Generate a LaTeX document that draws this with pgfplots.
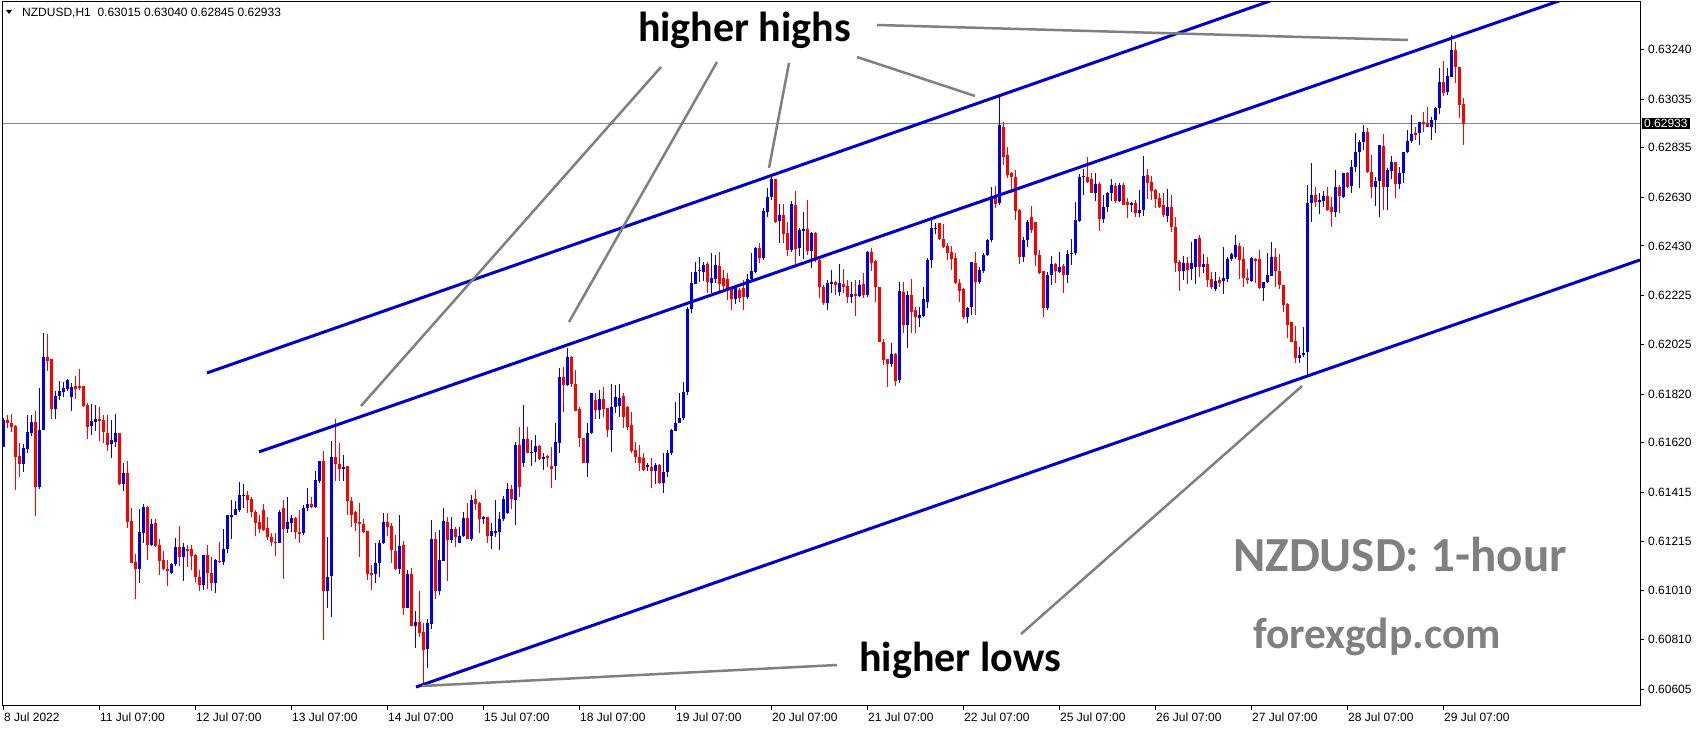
\documentclass[border=0pt]{standalone}
\usepackage{fontspec}
\setmainfont{Liberation Sans}
\newfontfamily\calibri{Carlito}
\usepackage{pgfplots}
\usepackage{pgfplotstable}
\pgfplotsset{compat=1.18}
\usetikzlibrary{backgrounds}
\definecolor{bull}{RGB}{0,0,230}
\definecolor{bear}{RGB}{255,0,0}
\definecolor{tline}{RGB}{0,0,205}
\definecolor{annot}{RGB}{128,128,128}
\definecolor{pline}{RGB}{119,136,153}
\pgfplotstableread{
i o h l c
0 0.61602 0.61722 0.61602 0.61713
1 0.61713 0.61734 0.61680 0.61701
2 0.61701 0.61738 0.61664 0.61685
3 0.61689 0.61693 0.61425 0.61561
4 0.61565 0.61619 0.61479 0.61532
5 0.61532 0.61615 0.61499 0.61598
6 0.61594 0.61734 0.61578 0.61664
7 0.61660 0.61734 0.61647 0.61705
8 0.61705 0.61750 0.61318 0.61438
9 0.61438 0.61845 0.61429 0.61672
10 0.61672 0.62071 0.61672 0.61973
11 0.61973 0.62067 0.61915 0.61956
12 0.61964 0.61964 0.61717 0.61759
13 0.61759 0.61833 0.61717 0.61812
14 0.61812 0.61874 0.61796 0.61833
15 0.61829 0.61870 0.61808 0.61845
16 0.61841 0.61882 0.61833 0.61878
17 0.61808 0.61866 0.61750 0.61849
18 0.61853 0.61894 0.61800 0.61841
19 0.61853 0.61923 0.61837 0.61845
20 0.61853 0.61853 0.61767 0.61771
21 0.61775 0.61783 0.61635 0.61685
22 0.61689 0.61779 0.61652 0.61709
23 0.61705 0.61775 0.61668 0.61717
24 0.61717 0.61767 0.61627 0.61709
25 0.61713 0.61734 0.61619 0.61664
26 0.61660 0.61734 0.61586 0.61610
27 0.61615 0.61713 0.61557 0.61631
28 0.61623 0.61738 0.61602 0.61660
29 0.61660 0.61660 0.61446 0.61450
30 0.61450 0.61536 0.61421 0.61495
31 0.61495 0.61545 0.61269 0.61294
32 0.61298 0.61351 0.61125 0.61125
33 0.61129 0.61162 0.60977 0.61100
34 0.61100 0.61347 0.61042 0.61252
35 0.61248 0.61368 0.61207 0.61355
36 0.61355 0.61359 0.61137 0.61199
37 0.61199 0.61306 0.61195 0.61285
38 0.61289 0.61306 0.61191 0.61195
39 0.61199 0.61224 0.61075 0.61133
40 0.61137 0.61174 0.61096 0.61100
41 0.61100 0.61137 0.61030 0.61092
42 0.61084 0.61125 0.61079 0.61121
43 0.61121 0.61228 0.61112 0.61191
44 0.61191 0.61277 0.61112 0.61149
45 0.61149 0.61207 0.61051 0.61191
46 0.61182 0.61199 0.61108 0.61174
47 0.61182 0.61199 0.61096 0.61154
48 0.61158 0.61162 0.61047 0.61067
49 0.61067 0.61096 0.61010 0.61034
50 0.61034 0.61158 0.61014 0.61158
51 0.61158 0.61199 0.61018 0.61084
52 0.61084 0.61149 0.61010 0.61042
53 0.61042 0.61141 0.61001 0.61137
54 0.61133 0.61211 0.61125 0.61129
55 0.61129 0.61265 0.61116 0.61182
56 0.61182 0.61322 0.61166 0.61322
57 0.61318 0.61384 0.61224 0.61322
58 0.61322 0.61380 0.61322 0.61347
59 0.61343 0.61458 0.61335 0.61405
60 0.61405 0.61450 0.61351 0.61405
61 0.61405 0.61421 0.61331 0.61384
62 0.61388 0.61396 0.61314 0.61335
63 0.61335 0.61343 0.61236 0.61289
64 0.61294 0.61322 0.61248 0.61265
65 0.61343 0.61368 0.61256 0.61261
66 0.61269 0.61314 0.61219 0.61232
67 0.61232 0.61248 0.61195 0.61211
68 0.61211 0.61248 0.61154 0.61207
69 0.61207 0.61343 0.61207 0.61335
70 0.61351 0.61384 0.61059 0.61265
71 0.61265 0.61396 0.61248 0.61294
72 0.61289 0.61322 0.61252 0.61310
73 0.61310 0.61314 0.61224 0.61252
74 0.61252 0.61343 0.61207 0.61248
75 0.61248 0.61363 0.61240 0.61351
76 0.61351 0.61433 0.61339 0.61368
77 0.61368 0.61396 0.61351 0.61355
78 0.61355 0.61503 0.61351 0.61466
79 0.61462 0.61545 0.61454 0.61545
80 0.61545 0.61586 0.60808 0.61010
81 0.61010 0.61232 0.60940 0.61067
82 0.61071 0.61627 0.60902 0.61561
83 0.61561 0.61717 0.61462 0.61532
84 0.61532 0.61619 0.61462 0.61512
85 0.61512 0.61569 0.61462 0.61520
86 0.61524 0.61524 0.61322 0.61380
87 0.61380 0.61396 0.61273 0.61322
88 0.61335 0.61339 0.61256 0.61289
89 0.61294 0.61372 0.61149 0.61285
90 0.61285 0.61306 0.61248 0.61252
91 0.61256 0.61256 0.61055 0.61079
92 0.61084 0.61116 0.61014 0.61075
93 0.61079 0.61207 0.61042 0.61125
94 0.61125 0.61219 0.61067 0.61207
95 0.61207 0.61331 0.61203 0.61294
96 0.61294 0.61331 0.61236 0.61273
97 0.61277 0.61289 0.61125 0.61178
98 0.61174 0.61240 0.61096 0.61100
99 0.61100 0.61322 0.61079 0.61195
100 0.61199 0.61215 0.60911 0.60940
101 0.60940 0.61096 0.60940 0.61079
102 0.61079 0.61104 0.60865 0.60865
103 0.60865 0.60927 0.60775 0.60882
104 0.60882 0.61010 0.60820 0.60837
105 0.60841 0.60878 0.60627 0.60767
106 0.60771 0.60894 0.60693 0.60878
107 0.60874 0.61302 0.60853 0.61224
108 0.61224 0.61252 0.60977 0.61010
109 0.61010 0.61261 0.60993 0.61137
110 0.61133 0.61351 0.61133 0.61298
111 0.61294 0.61314 0.61051 0.61219
112 0.61219 0.61314 0.61207 0.61265
113 0.61265 0.61273 0.61191 0.61232
114 0.61207 0.61273 0.61207 0.61236
115 0.61236 0.61335 0.61232 0.61310
116 0.61310 0.61372 0.61224 0.61224
117 0.61224 0.61405 0.61215 0.61384
118 0.61388 0.61425 0.61343 0.61368
119 0.61372 0.61376 0.61248 0.61306
120 0.61306 0.61318 0.61285 0.61314
121 0.61314 0.61314 0.61207 0.61236
122 0.61236 0.61289 0.61182 0.61256
123 0.61248 0.61384 0.61232 0.61256
124 0.61252 0.61335 0.61178 0.61306
125 0.61306 0.61401 0.61298 0.61388
126 0.61331 0.61454 0.61326 0.61429
127 0.61429 0.61446 0.61347 0.61388
128 0.61384 0.61623 0.61281 0.61610
129 0.61610 0.61685 0.61396 0.61438
130 0.61536 0.61775 0.61520 0.61635
131 0.61635 0.61685 0.61578 0.61578
132 0.61578 0.61631 0.61524 0.61582
133 0.61582 0.61652 0.61540 0.61606
134 0.61606 0.61610 0.61549 0.61553
135 0.61553 0.61578 0.61508 0.61561
136 0.61565 0.61569 0.61520 0.61561
137 0.61524 0.61602 0.61433 0.61512
138 0.61524 0.61701 0.61466 0.61623
139 0.61619 0.61927 0.61578 0.61890
140 0.61890 0.61931 0.61746 0.61857
141 0.61857 0.62010 0.61853 0.61973
142 0.61973 0.61977 0.61849 0.61861
143 0.61861 0.61919 0.61750 0.61750
144 0.61759 0.61767 0.61602 0.61639
145 0.61639 0.61639 0.61536 0.61536
146 0.61536 0.61701 0.61479 0.61660
147 0.61660 0.61825 0.61656 0.61825
148 0.61796 0.61825 0.61717 0.61754
149 0.61754 0.61837 0.61717 0.61800
150 0.61800 0.61849 0.61726 0.61759
151 0.61763 0.61763 0.61643 0.61672
152 0.61672 0.61861 0.61582 0.61767
153 0.61767 0.61857 0.61742 0.61808
154 0.61771 0.61861 0.61726 0.61804
155 0.61812 0.61825 0.61680 0.61726
156 0.61767 0.61771 0.61672 0.61685
157 0.61693 0.61746 0.61578 0.61586
158 0.61590 0.61623 0.61536 0.61561
159 0.61561 0.61610 0.61503 0.61536
160 0.61557 0.61578 0.61503 0.61508
161 0.61520 0.61536 0.61503 0.61528
162 0.61520 0.61557 0.61433 0.61503
163 0.61503 0.61536 0.61450 0.61528
164 0.61528 0.61532 0.61450 0.61454
165 0.61454 0.61578 0.61413 0.61499
166 0.61499 0.61590 0.61479 0.61578
167 0.61578 0.61676 0.61569 0.61672
168 0.61668 0.61787 0.61668 0.61701
169 0.61701 0.61825 0.61701 0.61722
170 0.61722 0.61870 0.61713 0.61829
171 0.61829 0.62178 0.61816 0.62170
172 0.62170 0.62323 0.62154 0.62277
173 0.62273 0.62364 0.62273 0.62323
174 0.62327 0.62384 0.62281 0.62331
175 0.62323 0.62364 0.62285 0.62351
176 0.62355 0.62364 0.62236 0.62281
177 0.62277 0.62401 0.62236 0.62298
178 0.62294 0.62392 0.62277 0.62351
179 0.62347 0.62405 0.62236 0.62273
180 0.62298 0.62331 0.62248 0.62265
181 0.62294 0.62318 0.62207 0.62248
182 0.62253 0.62257 0.62166 0.62211
183 0.62211 0.62261 0.62191 0.62257
184 0.62248 0.62257 0.62199 0.62216
185 0.62257 0.62290 0.62166 0.62220
186 0.62220 0.62314 0.62211 0.62294
187 0.62294 0.62401 0.62281 0.62327
188 0.62323 0.62425 0.62318 0.62421
189 0.62421 0.62442 0.62360 0.62380
190 0.62380 0.62586 0.62372 0.62574
191 0.62569 0.62668 0.62549 0.62631
192 0.62631 0.62714 0.62619 0.62705
193 0.62705 0.62705 0.62524 0.62528
194 0.62532 0.62602 0.62442 0.62557
195 0.62557 0.62602 0.62442 0.62479
196 0.62483 0.62528 0.62388 0.62413
197 0.62413 0.62615 0.62405 0.62602
198 0.62598 0.62656 0.62351 0.62417
199 0.62421 0.62504 0.62388 0.62495
200 0.62491 0.62569 0.62376 0.62499
201 0.62499 0.62619 0.62392 0.62409
202 0.62409 0.62487 0.62339 0.62483
203 0.62483 0.62487 0.62364 0.62372
204 0.62372 0.62380 0.62216 0.62261
205 0.62261 0.62269 0.62187 0.62195
206 0.62195 0.62290 0.62166 0.62277
207 0.62277 0.62331 0.62236 0.62281
208 0.62281 0.62285 0.62228 0.62269
209 0.62240 0.62355 0.62224 0.62277
210 0.62273 0.62335 0.62236 0.62261
211 0.62265 0.62290 0.62195 0.62220
212 0.62220 0.62281 0.62195 0.62232
213 0.62232 0.62290 0.62141 0.62224
214 0.62224 0.62290 0.62220 0.62269
215 0.62273 0.62318 0.62216 0.62228
216 0.62228 0.62409 0.62220 0.62405
217 0.62405 0.62421 0.62327 0.62360
218 0.62368 0.62372 0.62199 0.62261
219 0.62261 0.62261 0.62034 0.62034
220 0.62034 0.62047 0.61940 0.61960
221 0.61964 0.61964 0.61849 0.61944
222 0.61944 0.62030 0.61931 0.61985
223 0.61985 0.61989 0.61853 0.61874
224 0.61878 0.62281 0.61866 0.62244
225 0.62240 0.62281 0.62071 0.62104
226 0.62104 0.62244 0.62010 0.62228
227 0.62228 0.62294 0.62071 0.62158
228 0.62166 0.62178 0.62071 0.62137
229 0.62133 0.62178 0.62096 0.62145
230 0.62141 0.62261 0.62137 0.62211
231 0.62199 0.62380 0.62174 0.62372
232 0.62372 0.62537 0.62339 0.62504
233 0.62500 0.62524 0.62479 0.62504
234 0.62524 0.62524 0.62454 0.62458
235 0.62458 0.62520 0.62421 0.62425
236 0.62430 0.62442 0.62372 0.62401
237 0.62405 0.62430 0.62331 0.62376
238 0.62380 0.62401 0.62273 0.62277
239 0.62277 0.62294 0.62199 0.62244
240 0.62253 0.62257 0.62129 0.62137
241 0.62137 0.62178 0.62113 0.62174
242 0.62178 0.62364 0.62145 0.62364
243 0.62360 0.62405 0.62145 0.62281
244 0.62281 0.62343 0.62273 0.62331
245 0.62327 0.62401 0.62318 0.62392
246 0.62392 0.62458 0.62388 0.62454
247 0.62454 0.62672 0.62446 0.62635
248 0.62635 0.62676 0.62586 0.62602
249 0.62607 0.63047 0.62598 0.62928
250 0.62919 0.62940 0.62763 0.62796
251 0.62804 0.62837 0.62709 0.62722
252 0.62730 0.62734 0.62648 0.62714
253 0.62714 0.62742 0.62537 0.62574
254 0.62578 0.62582 0.62355 0.62384
255 0.62384 0.62467 0.62364 0.62454
256 0.62454 0.62537 0.62425 0.62528
257 0.62549 0.62594 0.62483 0.62495
258 0.62528 0.62528 0.62347 0.62392
259 0.62392 0.62413 0.62314 0.62318
260 0.62327 0.62327 0.62137 0.62174
261 0.62174 0.62323 0.62166 0.62310
262 0.62310 0.62388 0.62269 0.62355
263 0.62355 0.62360 0.62277 0.62327
264 0.62323 0.62405 0.62318 0.62343
265 0.62347 0.62355 0.62236 0.62310
266 0.62310 0.62413 0.62277 0.62397
267 0.62397 0.62458 0.62351 0.62401
268 0.62401 0.62611 0.62392 0.62537
269 0.62532 0.62726 0.62528 0.62714
270 0.62714 0.62746 0.62639 0.62718
271 0.62714 0.62796 0.62689 0.62693
272 0.62705 0.62730 0.62648 0.62648
273 0.62648 0.62730 0.62615 0.62685
274 0.62685 0.62693 0.62491 0.62541
275 0.62541 0.62639 0.62524 0.62590
276 0.62590 0.62652 0.62569 0.62648
277 0.62648 0.62705 0.62615 0.62681
278 0.62676 0.62689 0.62607 0.62615
279 0.62615 0.62689 0.62611 0.62681
280 0.62681 0.62689 0.62598 0.62598
281 0.62611 0.62627 0.62545 0.62598
282 0.62598 0.62611 0.62569 0.62607
283 0.62607 0.62619 0.62549 0.62565
284 0.62565 0.62660 0.62549 0.62578
285 0.62578 0.62800 0.62553 0.62718
286 0.62722 0.62746 0.62623 0.62689
287 0.62693 0.62718 0.62619 0.62656
288 0.62660 0.62664 0.62586 0.62623
289 0.62627 0.62648 0.62586 0.62590
290 0.62598 0.62648 0.62549 0.62557
291 0.62553 0.62664 0.62528 0.62590
292 0.62590 0.62639 0.62487 0.62508
293 0.62508 0.62549 0.62323 0.62360
294 0.62364 0.62372 0.62244 0.62327
295 0.62327 0.62388 0.62290 0.62360
296 0.62360 0.62384 0.62273 0.62331
297 0.62335 0.62446 0.62290 0.62360
298 0.62343 0.62458 0.62273 0.62458
299 0.62462 0.62475 0.62302 0.62343
300 0.62343 0.62397 0.62318 0.62355
301 0.62355 0.62384 0.62261 0.62290
302 0.62294 0.62323 0.62253 0.62261
303 0.62253 0.62323 0.62244 0.62285
304 0.62290 0.62302 0.62261 0.62277
305 0.62285 0.62425 0.62232 0.62298
306 0.62294 0.62384 0.62281 0.62376
307 0.62376 0.62401 0.62368 0.62397
308 0.62384 0.62475 0.62376 0.62434
309 0.62430 0.62442 0.62294 0.62372
310 0.62376 0.62425 0.62261 0.62298
311 0.62298 0.62335 0.62273 0.62290
312 0.62285 0.62384 0.62281 0.62380
313 0.62376 0.62380 0.62277 0.62368
314 0.62376 0.62413 0.62253 0.62257
315 0.62257 0.62281 0.62203 0.62281
316 0.62281 0.62401 0.62277 0.62310
317 0.62306 0.62446 0.62306 0.62384
318 0.62384 0.62421 0.62261 0.62327
319 0.62327 0.62397 0.62253 0.62269
320 0.62269 0.62269 0.62158 0.62187
321 0.62191 0.62195 0.62051 0.62104
322 0.62117 0.62117 0.62034 0.62034
323 0.62039 0.62100 0.61948 0.61969
324 0.61969 0.62014 0.61948 0.61981
325 0.61981 0.62096 0.61973 0.61989
326 0.61993 0.62681 0.61894 0.62607
327 0.62607 0.62771 0.62528 0.62639
328 0.62639 0.62672 0.62590 0.62611
329 0.62611 0.62648 0.62561 0.62619
330 0.62615 0.62656 0.62590 0.62635
331 0.62635 0.62672 0.62574 0.62578
332 0.62590 0.62631 0.62508 0.62569
333 0.62569 0.62742 0.62549 0.62672
334 0.62672 0.62681 0.62565 0.62635
335 0.62631 0.62730 0.62627 0.62730
336 0.62730 0.62734 0.62668 0.62672
337 0.62676 0.62783 0.62648 0.62755
338 0.62755 0.62895 0.62734 0.62816
339 0.62816 0.62866 0.62668 0.62858
340 0.62858 0.62928 0.62825 0.62899
341 0.62899 0.62915 0.62730 0.62734
342 0.62734 0.62804 0.62627 0.62672
343 0.62672 0.62714 0.62594 0.62697
344 0.62697 0.62845 0.62549 0.62845
345 0.62841 0.62890 0.62578 0.62672
346 0.62672 0.62751 0.62578 0.62742
347 0.62738 0.62800 0.62705 0.62775
348 0.62775 0.62775 0.62627 0.62685
349 0.62685 0.62755 0.62664 0.62730
350 0.62730 0.62816 0.62689 0.62816
351 0.62816 0.62907 0.62812 0.62862
352 0.62862 0.62969 0.62854 0.62890
353 0.62895 0.62919 0.62866 0.62890
354 0.62895 0.62940 0.62845 0.62940
355 0.62940 0.62981 0.62899 0.62932
356 0.62936 0.63002 0.62919 0.62919
357 0.62919 0.62960 0.62866 0.62948
358 0.62948 0.63002 0.62895 0.62998
359 0.62998 0.63162 0.62973 0.63105
360 0.63105 0.63191 0.63047 0.63059
361 0.63063 0.63162 0.63051 0.63129
362 0.63125 0.63298 0.63125 0.63236
363 0.63236 0.63269 0.63100 0.63166
364 0.63166 0.63166 0.62956 0.63010
365 0.63015 0.63040 0.62845 0.62933
}\ohlc
\begin{document}
\begin{tikzpicture}[x=1pt,y=1pt]
\begin{axis}[
  name=ax,
  scale only axis, width=1637.5pt, height=704pt,
  xmin=-0.125, xmax=409.25, ymin=0.60536, ymax=0.63434,
  axis line style={line width=1pt},
  tick align=outside,
  major tick length=4pt,
  tick style={black, line width=0.8pt},
  xtick pos=bottom, ytick pos=right, yticklabel pos=right,
  xtick={0,24,48,72,96,120,144,168,192,216,240,264,288,312,336,360},
  xticklabels={8 Jul 2022,11 Jul 07:00,12 Jul 07:00,13 Jul 07:00,14 Jul 07:00,15 Jul 07:00,18 Jul 07:00,19 Jul 07:00,20 Jul 07:00,21 Jul 07:00,22 Jul 07:00,25 Jul 07:00,26 Jul 07:00,27 Jul 07:00,28 Jul 07:00,29 Jul 07:00},
  ytick={0.60605,0.60810,0.61010,0.61215,0.61415,0.61620,0.61820,0.62025,0.62225,0.62430,0.62630,0.62835,0.63035,0.63240},
  yticklabels={0.60605,0.60810,0.61010,0.61215,0.61415,0.61620,0.61820,0.62025,0.62225,0.62430,0.62630,0.62835,0.63035,0.63240},
  scaled y ticks=false,
  ticklabel style={font=\fontsize{12}{14}\selectfont},
  xticklabel style={anchor=north west, inner xsep=1pt, inner ysep=3pt},
  yticklabel style={anchor=west, inner sep=0pt, xshift=4pt},
  clip=true,
]
% current price line
\addplot[pline, line width=0.8pt, forget plot] coordinates {(-0.125,0.62933) (409.25,0.62933)};
% bullish wicks and bodies
\addplot[draw=none, mark=none, forget plot,
  error bars/.cd, y dir=both, y explicit, error mark=none,
  error bar style={draw=bull, line width=1pt}]
  table[x=i, y expr={\thisrow{c}>=\thisrow{o} ? 0.5*(\thisrow{h}+\thisrow{l}) : nan},
        y error expr={0.5*(\thisrow{h}-\thisrow{l})}]{\ohlc};
\addplot[draw=none, mark=none, forget plot,
  error bars/.cd, y dir=both, y explicit, error mark=none,
  error bar style={draw=bull, line width=3pt}]
  table[x=i, y expr={\thisrow{c}>=\thisrow{o} ? 0.5*(\thisrow{c}+\thisrow{o}) : nan},
        y error expr={max(0.5*abs(\thisrow{c}-\thisrow{o}),0.00001)}]{\ohlc};
% bearish wicks and bodies
\addplot[draw=none, mark=none, forget plot,
  error bars/.cd, y dir=both, y explicit, error mark=none,
  error bar style={draw=bear, line width=1pt}]
  table[x=i, y expr={\thisrow{c}<\thisrow{o} ? 0.5*(\thisrow{h}+\thisrow{l}) : nan},
        y error expr={0.5*(\thisrow{h}-\thisrow{l})}]{\ohlc};
\addplot[draw=none, mark=none, forget plot,
  error bars/.cd, y dir=both, y explicit, error mark=none,
  error bar style={draw=bear, line width=3pt}]
  table[x=i, y expr={\thisrow{c}<\thisrow{o} ? 0.5*(\thisrow{c}+\thisrow{o}) : nan},
        y error expr={max(0.5*abs(\thisrow{c}-\thisrow{o}),0.00001)}]{\ohlc};
% trend channel lines
\addplot[tline, line width=3pt, forget plot] coordinates {(51,0.61907) (409.25,0.63971)};
\addplot[tline, line width=3pt, forget plot] coordinates {(64,0.61582) (409.25,0.63554)};
\addplot[tline, line width=3pt, forget plot] coordinates {(103.25,0.60614) (409.25,0.62372)};
\coordinate (SW) at (rel axis cs:0,0);
\end{axis}
\pgfresetboundingbox
\begin{scope}[shift={(SW)}]
\begin{scope}[shift={(-2.5,-24)}]
\useasboundingbox (0,0) rectangle (1704,730);
\begin{pgfonlayer}{background}
\fill[white] (0,0) rectangle (1704,730);
\end{pgfonlayer}
% pointer lines
\begin{scope}[annot, line width=2.5pt]
\draw (661,663) -- (361,324);
\draw (717,668) -- (569,408);
\draw (789,667) -- (769,562);
\draw (857,673) -- (975,634);
\draw (877,705) -- (1408,690);
\draw (837,65) -- (422,44);
\draw (1021,96) -- (1302,344);
\end{scope}
% texts
\node[anchor=base, inner sep=0pt, font=\calibri\bfseries\fontsize{42}{42}\selectfont] at (744.5,688.3) {higher highs};
\node[anchor=base, inner sep=0pt, font=\calibri\bfseries\fontsize{42}{42}\selectfont] at (960,58.4) {higher lows};
\node[anchor=base, inner sep=0pt, text=annot, font=\calibri\bfseries\fontsize{49}{49}\selectfont] at (1400,158) {NZDUSD: 1-hour};
\node[anchor=base, inner sep=0pt, text=annot, font=\calibri\bfseries\fontsize{43.5}{44}\selectfont] at (1377,81.3) {forexgdp.com};
% header
\fill[black] (6,720) -- (12,720) -- (9,716) -- cycle;
\node[anchor=base west, inner sep=0pt, font=\fontsize{12}{14}\selectfont] at (22,713.5) {NZDUSD,H1\ \ 0.63015 0.63040 0.62845 0.62933};
% current price tag
\node[anchor=west, fill=black, text=white, inner xsep=2pt, inner ysep=1.5pt, font=\fontsize{12}{14}\selectfont] at (1642,606.3) {0.62933};
\end{scope}
\end{scope}
\end{tikzpicture}
\end{document}
